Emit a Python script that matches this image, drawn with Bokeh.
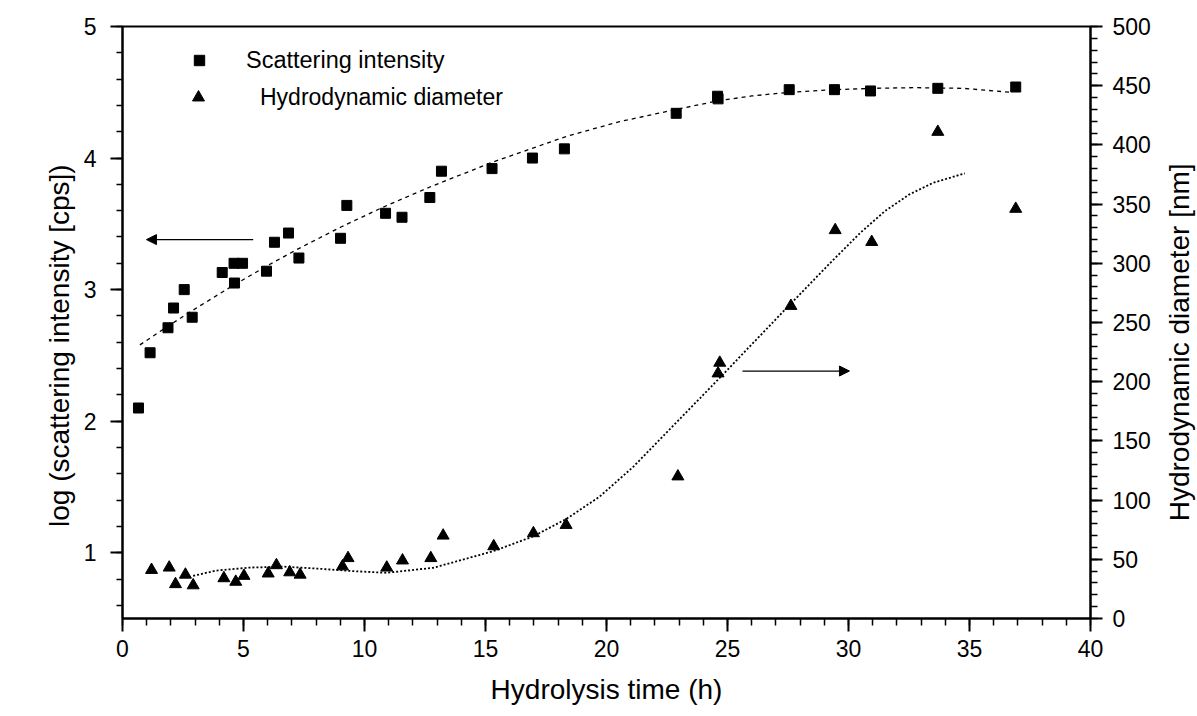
import math
from bokeh.plotting import figure
from bokeh.layouts import row
from bokeh.models import (Range1d, LinearAxis, SingleIntervalTicker, Arrow, NormalHead,
                          Legend, LegendItem)
from bokeh.core.properties import value
from bokeh.embed import file_html
from bokeh.resources import INLINE

# ---- data ----
sq_x = [0.66, 1.14, 1.88, 2.11, 2.55, 2.88, 4.12, 4.61, 4.63, 4.96, 5.95, 6.28, 6.86, 7.29,
        9.01, 9.27, 10.87, 11.55, 12.70, 13.18, 15.27, 16.94, 18.26, 22.88, 24.59, 24.61,
        27.55, 29.42, 30.91, 33.69, 36.91]
sq_y = [2.10, 2.52, 2.71, 2.86, 3.00, 2.79, 3.13, 3.20, 3.05, 3.20, 3.14, 3.36, 3.43, 3.24,
        3.39, 3.64, 3.58, 3.55, 3.70, 3.90, 3.92, 4.00, 4.07, 4.34, 4.47, 4.45,
        4.52, 4.52, 4.51, 4.53, 4.54]

tr_x = [1.20, 1.93, 2.19, 2.60, 2.92, 4.19, 4.68, 5.02, 6.02, 6.36, 6.91, 7.34, 9.09, 9.32,
        10.92, 11.57, 12.74, 13.25, 15.34, 16.98, 18.33, 22.95, 24.61, 24.68, 27.62, 29.45,
        30.96, 33.69, 36.91]
tr_y = [41, 43, 29, 37, 28, 34, 31, 36, 38, 45, 39, 37, 44, 51,
        43, 49, 51, 70, 61, 72, 79, 120, 207, 216, 264, 328,
        318, 411, 346]

fit1_x = [0.72, 1.88, 2.85, 4.61, 5.95, 7.26, 9.05, 10.77, 12.70, 15.31, 18.35, 20.50,
          22.89, 24.61, 26.00, 27.55, 29.42, 31.00, 32.69, 34.75, 36.68]
fit1_y = [2.58, 2.722, 2.837, 3.036, 3.178, 3.31, 3.478, 3.627, 3.78, 3.97, 4.165, 4.275,
          4.37, 4.435, 4.472, 4.50, 4.52, 4.53, 4.535, 4.53, 4.50]

fit2_x = [2.92, 3.88, 5.26, 6.64, 8.02, 9.53, 10.91, 12.84, 15.31, 16.97, 18.35, 19.72,
          21.10, 22.48, 23.86, 25.00, 25.79, 27.62, 29.23, 30.50, 31.50, 32.50, 33.50, 34.81]
fit2_y = [36, 40.5, 43, 43.8, 42.2, 40, 38.6, 42.8, 56.8, 69.3, 84.2, 103,
          128, 157, 186, 210, 227, 266, 300, 326, 344, 358, 368, 376]

legend_labels = ["Scattering intensity", "Hydrodynamic diameter"]
x_title = "Hydrolysis time (h)"
y_left_title = "log (scattering intensity [cps])"
y_right_title = "Hydrodynamic diameter [nm]"

# arrows: (x_start, x_end, y)
arrow_left = (5.40, 0.99, 3.38)
arrow_right = (25.62, 30.04, 209)

FONT = "Liberation Sans"
LEFT_W, RIGHT_W, H = 80, 37, 716
MAIN_W = 1197 - LEFT_W - RIGHT_W

p = figure(width=MAIN_W, height=H, x_range=Range1d(0, 40), y_range=Range1d(0.5, 5),
           output_backend="svg", toolbar_location=None,
           min_border_left=121 - LEFT_W, min_border_right=1160 - 1090,
           min_border_top=26, min_border_bottom=98)
p.extra_y_ranges = {"d": Range1d(0, 500)}
p.xgrid.visible = False
p.ygrid.visible = False
p.outline_line_color = "black"
p.outline_line_width = 2
p.background_fill_color = "white"
p.border_fill_color = "white"


def style_axis(ax, standoff):
    ax.axis_line_width = 2
    ax.axis_line_color = "black"
    ax.major_tick_line_width = 2
    ax.minor_tick_line_width = 1.5
    ax.major_tick_in = 0
    ax.minor_tick_in = 0
    ax.major_tick_out = 12
    ax.minor_tick_out = 6
    ax.major_label_text_font = FONT
    ax.major_label_text_font_size = "23px"
    ax.major_label_text_color = "black"
    ax.major_label_standoff = standoff
    ax.axis_label_text_font = FONT
    ax.axis_label_text_font_size = "28px"
    ax.axis_label_text_font_style = "normal"
    ax.axis_label_text_color = "black"


xa = p.xaxis[0]
xa.ticker = SingleIntervalTicker(interval=5, num_minor_ticks=5)
style_axis(xa, 8)
xa.axis_label = x_title
xa.axis_label_standoff = 14
xa.major_tick_out = 13
xa.minor_tick_out = 7

ya = p.yaxis[0]
ya.ticker = SingleIntervalTicker(interval=1, num_minor_ticks=5)
style_axis(ya, 14)

ra = LinearAxis(y_range_name="d", ticker=SingleIntervalTicker(interval=50, num_minor_ticks=5))
style_axis(ra, 10)
ra.minor_tick_out = 7
p.add_layout(ra, "right")

# fitted curves
p.line(fit1_x, fit1_y, line_color="black", line_width=1.3, line_dash="4 4")
p.line(fit2_x, fit2_y, y_range_name="d", line_color="black", line_width=1.8, line_dash="2 2")

# data points
r1 = p.scatter(sq_x, sq_y, marker="square", size=10, color="black")
r2 = p.scatter(tr_x, tr_y, marker="triangle", size=12, color="black", y_range_name="d")

# arrows
p.add_layout(Arrow(end=NormalHead(size=10, fill_color="black", line_color="black"),
                   x_start=arrow_left[0], x_end=arrow_left[1],
                   y_start=arrow_left[2], y_end=arrow_left[2],
                   line_width=1.3, line_color="black"))
p.add_layout(Arrow(end=NormalHead(size=10, fill_color="black", line_color="black"),
                   x_start=arrow_right[0], x_end=arrow_right[1],
                   y_start=arrow_right[2], y_end=arrow_right[2],
                   y_range_name="d", line_width=1.3, line_color="black"))

common = dict(orientation="vertical", border_line_color=None, background_fill_alpha=0,
              padding=0, margin=0, spacing=0, label_height=34,
              label_text_font=FONT, label_text_color="black")
leg1 = Legend(items=[LegendItem(label=legend_labels[0], renderers=[r1])],
              location=(64, 541), glyph_width=26, glyph_height=26, label_standoff=34,
              label_text_font_size="23.5px", **common)
leg2 = Legend(items=[LegendItem(label=legend_labels[1], renderers=[r2])],
              location=(61, 504), glyph_width=30, glyph_height=30, label_standoff=47,
              label_text_font_size="23px", **common)
p.add_layout(leg1)
p.add_layout(leg2)


def title_strip(width, text, tx, ty):
    f = figure(width=width, height=H, x_range=Range1d(0, width), y_range=Range1d(0, H),
               output_backend="svg", toolbar_location=None,
               x_axis_location=None, y_axis_location=None,
               min_border=0, min_border_left=0, min_border_right=0,
               min_border_top=0, min_border_bottom=0)
    f.xgrid.visible = False
    f.ygrid.visible = False
    f.outline_line_color = None
    f.background_fill_color = "white"
    f.border_fill_color = "white"
    f.text(x=[tx], y=[ty], text=[text], angle=math.pi / 2,
           text_font=value(FONT), text_font_size=value("28px"),
           text_align="center", text_baseline="middle", text_color="black")
    return f


left_strip = title_strip(LEFT_W, y_left_title, 59, 330)
right_strip = title_strip(RIGHT_W, y_right_title, 19, 334)

layout = row(left_strip, p, right_strip, spacing=0)
open("out.html", "w").write(file_html(layout, INLINE))
